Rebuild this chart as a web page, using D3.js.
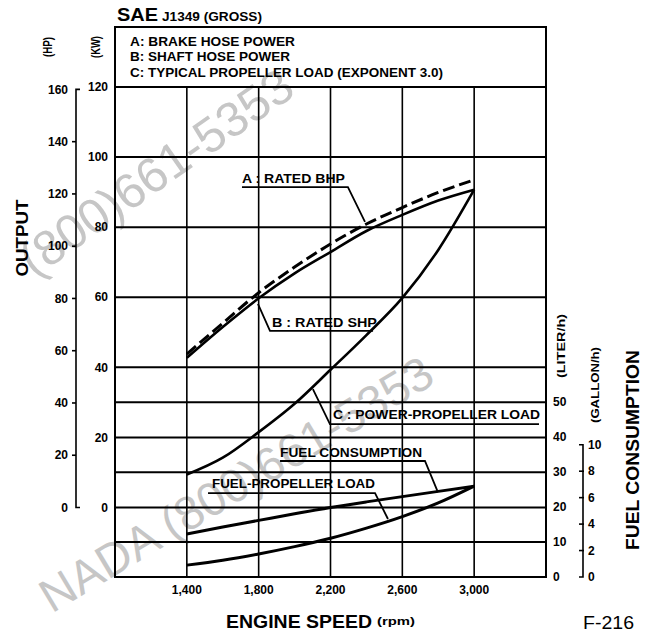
<!DOCTYPE html>
<html><head><meta charset="utf-8">
<script src="https://cdn.jsdelivr.net/npm/d3@7"></script>
<style>
body{margin:0;background:#fff}
svg{display:block}
text{font-family:"Liberation Sans",Arial,Helvetica,sans-serif;font-weight:bold;fill:#000}
</style>
</head><body>
<svg id="c" width="654" height="636"></svg>
<script>
// ---- data ----
const rpm = [1400, 1600, 1800, 2000, 2200, 2400, 2600, 2800, 3000];
const brakeKW = [43.8, 52.6, 61.3, 68.6, 75.2, 80.9, 85.6, 89.9, 93.5];
const shaftKW = [42.7, 51.5, 59.7, 66.8, 72.9, 78.9, 83.5, 87.6, 90.7];
const propKW = [9.4, 14.2, 21.5, 29.6, 39.3, 49.2, 59.8, 73.5, 90.7];
const fuelLph = [12.3, 14.3, 16.2, 18.1, 19.9, 21.5, 23.0, 24.5, 26.0];
const fuelPropLph = [3.4, 4.8, 6.6, 8.7, 11.1, 14.0, 17.3, 21.2, 26.0];

const rpmTicks = [1400, 1800, 2200, 2600, 3000];
const rpmTickLabels = ["1,400", "1,800", "2,200", "2,600", "3,000"];
const kwTicks = [0, 20, 40, 60, 80, 100, 120];
const hpTicks = [0, 20, 40, 60, 80, 100, 120, 140, 160];
const literTicks = [0, 10, 20, 30, 40, 50];
const literGrid = [0, 10, 30, 50];
const gallonTicks = [0, 2, 4, 6, 8, 10];
const legendLines = ["A: BRAKE HOSE POWER", "B: SHAFT HOSE POWER", "C: TYPICAL PROPELLER LOAD (EXPONENT 3.0)"];
const watermarks = ["(800)661-5353", "NADA (800)661-5353"];

// annotation anchors in data units (rpm, kW or L/h)
const annA = {label: "A : RATED BHP", text: [1707, 92.6], path: [[1707, 91.4], [2297, 91.4], [2392, 81.5]]};
const annB = {label: "B : RATED SHP", text: [1874, 51.5], path: [[1796, 58.1], [1863, 50.4], [2437, 50.4]]};
const annC = {label: "C : POWER-PROPELLER LOAD", text: [2214, 25.3], path: [[2102, 33.8], [2197, 23.8], [3361, 23.8]]};
const annFC = {label: "FUEL CONSUMPTION", text: [1919, 34.3], path: [[1919, 33.2], [2726, 33.2], [2798, 24.3]]};
const annFP = {label: "FUEL-PROPELLER LOAD", text: [1540, 25.5], path: [[1518, 24.0], [2448, 24.0], [2520, 16.6]]};

const KW_PER_HP = 0.7457;
const L_PER_GAL = 3.785;

// ---- scales ----
const svg = d3.select("#c");
const L = 115, R = 546, T = 87, B = 577, LT = 27;
const x = d3.scaleLinear().domain([1000, 3400]).range([L, R]);
const kw = d3.scaleLinear().domain([0, 120]).range([507.5, T]);
const hp = d3.scaleLinear().domain([0, 160]).range([kw(0), kw(160 * KW_PER_HP)]);
const lit = d3.scaleLinear().domain([0, 60]).range([B, kw(40)]);
const gal = g => lit(g * L_PER_GAL);

// ---- watermarks ----
const wm = svg.append("g");
[[watermarks[0], 156, 172, -35, 49], [watermarks[1], 236, 484, -31, 47]].forEach(d => {
  wm.append("text").text(d[0])
    .attr("transform", `translate(${d[1]},${d[2]}) rotate(${d[3]})`)
    .attr("text-anchor", "middle").attr("dy", "0.35em")
    .style("font-weight", "normal").style("font-size", d[4] + "px")
    .style("fill", "#c6c6c6");
});

// ---- grid ----
const g = svg.append("g").attr("stroke", "#000").attr("fill", "none");
kwTicks.forEach(v => g.append("line").attr("x1", L).attr("x2", R).attr("y1", kw(v)).attr("y2", kw(v)).attr("stroke-width", 2));
literGrid.forEach(v => g.append("line").attr("x1", L).attr("x2", R).attr("y1", lit(v)).attr("y2", lit(v)).attr("stroke-width", 2));
rpmTicks.forEach(v => g.append("line").attr("x1", x(v)).attr("x2", x(v)).attr("y1", T).attr("y2", B).attr("stroke-width", 1.6));
g.append("rect").attr("x", L).attr("y", LT).attr("width", R - L).attr("height", B - LT).attr("stroke-width", 2);

// ---- legend ----
const legLen = [165, 160, 313];
legendLines.forEach((t, i) => {
  svg.append("text").text(t).attr("x", 130).attr("y", 45.5 + i * 15.5).style("font-size", "13px")
    .attr("textLength", legLen[i]).attr("lengthAdjust", "spacingAndGlyphs");
});
svg.append("text").attr("x", 117).attr("y", 21).style("font-size", "17.5px").attr("textLength", 41).attr("lengthAdjust", "spacingAndGlyphs").text("SAE");
svg.append("text").attr("x", 162).attr("y", 21).style("font-size", "12px").attr("textLength", 100).attr("lengthAdjust", "spacingAndGlyphs").text("J1349 (GROSS)");

// ---- curves ----
const lineKW = d3.line().x((d, i) => x(rpm[i])).y(d => kw(d)).curve(d3.curveMonotoneX);
const lineL = d3.line().x((d, i) => x(rpm[i])).y(d => lit(d)).curve(d3.curveMonotoneX);
const cv = svg.append("g").attr("fill", "none").attr("stroke", "#000");
cv.append("path").attr("d", lineKW(shaftKW)).attr("stroke-width", 2.6);
cv.append("path").attr("d", lineKW(brakeKW)).attr("stroke-width", 3).attr("stroke-dasharray", "12,5");
cv.append("path").attr("d", lineKW(propKW)).attr("stroke-width", 2.6);
cv.append("path").attr("d", lineL(fuelLph)).attr("stroke-width", 3);
cv.append("path").attr("d", lineL(fuelPropLph)).attr("stroke-width", 3);

// ---- annotations ----
function ann(a, ys, len) {
  svg.append("path").attr("d", d3.line().x(p => x(p[0])).y(p => ys(p[1]))(a.path))
    .attr("fill", "none").attr("stroke", "#000").attr("stroke-width", 1.8);
  svg.append("text").text(a.label).attr("x", x(a.text[0])).attr("y", ys(a.text[1]))
    .style("font-size", "13px").attr("textLength", len).attr("lengthAdjust", "spacingAndGlyphs");
}
ann(annA, kw, 103);
ann(annB, kw, 105);
ann(annC, kw, 207);
ann(annFC, lit, 142);
ann(annFP, lit, 163);

// ---- HP axis ----
const ax = 76;
const hpG = svg.append("g");
hpG.append("path").attr("d", `M${ax + 4},${hp(160)}H${ax}V${hp(0)}H${ax + 4}`).attr("fill", "none").attr("stroke", "#000").attr("stroke-width", 1.6);
hpTicks.forEach(v => {
  if (v > 0 && v < 160) hpG.append("line").attr("x1", ax - 4).attr("x2", ax).attr("y1", hp(v)).attr("y2", hp(v)).attr("stroke", "#000").attr("stroke-width", 1.6);
  hpG.append("text").text(v).attr("x", 68).attr("y", hp(v)).attr("dy", "0.35em").attr("text-anchor", "end").style("font-size", "12px");
});
// KW axis labels
kwTicks.forEach(v => svg.append("text").text(v).attr("x", 108).attr("y", kw(v)).attr("dy", "0.35em").attr("text-anchor", "end").style("font-size", "12px"));
// x tick labels
rpmTicks.forEach((v, i) => svg.append("text").text(rpmTickLabels[i]).attr("x", x(v)).attr("y", 594).attr("text-anchor", "middle").style("font-size", "12px"));
// liter labels
literTicks.forEach(v => svg.append("text").text(v).attr("x", 553).attr("y", lit(v)).attr("dy", "0.35em").style("font-size", "12px"));
// gallon axis
const gx = 583;
svg.append("path").attr("d", `M${gx - 4},${gal(10)}H${gx}V${gal(0)}H${gx - 4}`).attr("fill", "none").attr("stroke", "#000").attr("stroke-width", 1.6);
gallonTicks.forEach(v => {
  if (v > 0 && v < 10) svg.append("line").attr("x1", gx - 4).attr("x2", gx + 1).attr("y1", gal(v)).attr("y2", gal(v)).attr("stroke", "#000").attr("stroke-width", 1.6);
  svg.append("text").text(v).attr("x", 588).attr("y", gal(v)).attr("dy", "0.35em").style("font-size", "12px");
});

// ---- axis titles ----
function vtext(t, cx, cy, size, len) {
  const el = svg.append("text").text(t).attr("transform", `translate(${cx},${cy}) rotate(-90)`)
    .attr("text-anchor", "middle").attr("dy", "0.35em").style("font-size", size + "px");
  if (len) el.attr("textLength", len).attr("lengthAdjust", "spacingAndGlyphs");
}
vtext("(HP)", 48, 47, 12.5, 20);
vtext("(KW)", 96, 47, 12.5, 22);
vtext("OUTPUT", 22.5, 238, 17, 77);
vtext("(LITER/h)", 561, 346, 11.5, 64);
vtext("(GALLON/h)", 595, 385, 11.5, 76);
vtext("FUEL CONSUMPTION", 632, 450, 19, 200);

svg.append("text").attr("x", 226).attr("y", 628).style("font-size", "18px").attr("textLength", 146).attr("lengthAdjust", "spacingAndGlyphs").text("ENGINE SPEED");
svg.append("text").attr("x", 377).attr("y", 625).style("font-size", "10px").attr("textLength", 38).attr("lengthAdjust", "spacingAndGlyphs").text("(rpm)");
svg.append("text").attr("x", 583).attr("y", 629).style("font-size", "18px").style("font-weight", "normal").attr("textLength", 51).attr("lengthAdjust", "spacingAndGlyphs").text("F-216");
</script>
</body></html>
